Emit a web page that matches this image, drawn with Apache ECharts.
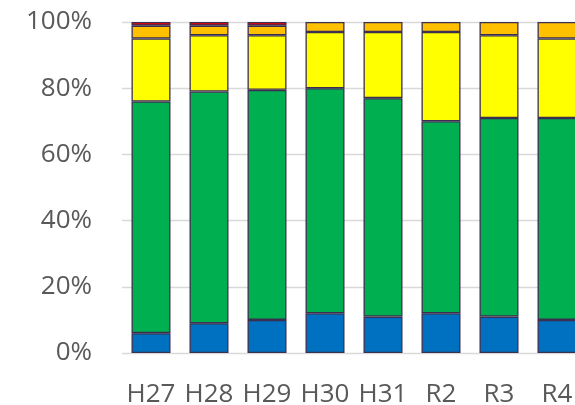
<!DOCTYPE html>
<html>
<head>
<meta charset="utf-8">
<script src="https://cdn.jsdelivr.net/npm/echarts@6/dist/echarts.min.js"></script>
<style>html,body{margin:0;padding:0;background:#fff;}#c{width:575px;height:405px;}</style>
</head>
<body>
<div id="c"></div>
<script>
const categories = ['H27','H28','H29','H30','H31','R2','R3','R4'];
const blueVals   = [6, 9, 10, 12, 11, 12, 11, 10];
const greenVals  = [70, 70, 69.5, 68, 66, 58, 60, 61];
const yellowVals = [19, 17, 16.5, 17, 20, 27, 25, 24];
const orangeVals = [3.9, 2.9, 2.9, 3, 3, 3, 4, 5];
const redVals    = [1.1, 1.1, 1.1, 0, 0, 0, 0, 0];
const yTicks = [0, 20, 40, 60, 80, 100];

const colors = ['#0070C0', '#00B050', '#FFFF00', '#FFC000', '#FF0000'];
const seriesData = [blueVals, greenVals, yellowVals, orangeVals, redVals];
const font = '"Open Sans", sans-serif';

const chart = echarts.init(document.getElementById('c'), null, {renderer: 'canvas'});
chart.setOption({
  animation: false,
  grid: {left: 122, top: 22, width: 464, height: 331, containLabel: false, outerBoundsMode: 'none'},
  xAxis: {
    type: 'category',
    data: categories,
    axisLine: {show: false},
    axisTick: {show: false},
    axisLabel: {color: '#595959', fontSize: 26, fontFamily: font, margin: 29, interval: 0, hideOverlap: false}
  },
  yAxis: {
    type: 'value',
    min: yTicks[0],
    max: yTicks[yTicks.length - 1],
    interval: 20,
    axisLine: {show: false},
    axisTick: {show: false},
    splitLine: {lineStyle: {color: '#D9D9D9', width: 1.3}},
    axisLabel: {color: '#595959', fontSize: 26, fontFamily: font, margin: 30, formatter: '{value}%'}
  },
  series: seriesData.map((d, i) => ({
    type: 'bar',
    stack: 'total',
    data: d.map(v => (v === 0 ? null : v)),
    barWidth: 39,
    itemStyle: {color: colors[i], borderColor: '#3B2F4F', borderWidth: 1.3}
  }))
});
</script>
</body>
</html>
